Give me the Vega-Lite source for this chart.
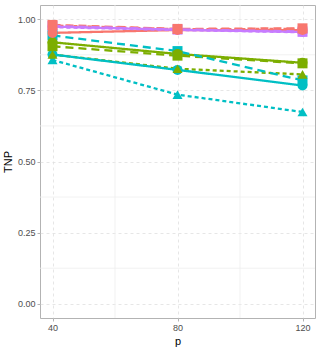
{
  "$schema": "https://vega.github.io/schema/vega-lite/v6.json",
  "width": 275,
  "height": 313,
  "autosize": {"type": "none"},
  "padding": {"left": 40, "top": 5, "right": 4, "bottom": 30},
  "background": "white",
  "config": {
    "view": {"stroke": "#B3B3B3", "strokeWidth": 1},
    "font": "Liberation Sans",
    "axis": {
      "domain": false,
      "grid": true,
      "gridColor": "#E0E0E0",
      "gridDash": [3, 3],
      "gridWidth": 0.8,
      "ticks": true,
      "tickColor": "#B3B3B3",
      "tickSize": 3,
      "labelColor": "#4D4D4D",
      "labelFontSize": 9,
      "labelFont": "Liberation Sans",
      "labelPadding": 2,
      "titleColor": "#000000",
      "titleFontSize": 11,
      "titleFont": "Liberation Sans",
      "titleFontWeight": "normal"
    }
  },
  "datasets": {
    "series": [
      {"method": "A", "setting": "dotted", "p": 40, "TNP": 0.978},
      {"method": "A", "setting": "dotted", "p": 80, "TNP": 0.965},
      {"method": "A", "setting": "dotted", "p": 120, "TNP": 0.966},
      {"method": "A", "setting": "solid", "p": 40, "TNP": 0.952},
      {"method": "A", "setting": "solid", "p": 80, "TNP": 0.962},
      {"method": "A", "setting": "solid", "p": 120, "TNP": 0.962},
      {"method": "A", "setting": "dashed", "p": 40, "TNP": 0.980},
      {"method": "A", "setting": "dashed", "p": 80, "TNP": 0.966},
      {"method": "A", "setting": "dashed", "p": 120, "TNP": 0.968},
      {"method": "B", "setting": "solid", "p": 40, "TNP": 0.919},
      {"method": "B", "setting": "solid", "p": 80, "TNP": 0.878},
      {"method": "B", "setting": "solid", "p": 120, "TNP": 0.847},
      {"method": "B", "setting": "dashed", "p": 40, "TNP": 0.905},
      {"method": "B", "setting": "dashed", "p": 80, "TNP": 0.872},
      {"method": "B", "setting": "dashed", "p": 120, "TNP": 0.845},
      {"method": "B", "setting": "dotted", "p": 40, "TNP": 0.876},
      {"method": "B", "setting": "dotted", "p": 80, "TNP": 0.826},
      {"method": "B", "setting": "dotted", "p": 120, "TNP": 0.806},
      {"method": "C", "setting": "solid", "p": 40, "TNP": 0.876},
      {"method": "C", "setting": "solid", "p": 80, "TNP": 0.822},
      {"method": "C", "setting": "solid", "p": 120, "TNP": 0.767},
      {"method": "C", "setting": "dashed", "p": 40, "TNP": 0.943},
      {"method": "C", "setting": "dashed", "p": 80, "TNP": 0.888},
      {"method": "C", "setting": "dashed", "p": 120, "TNP": 0.785},
      {"method": "C", "setting": "dotted", "p": 40, "TNP": 0.857},
      {"method": "C", "setting": "dotted", "p": 80, "TNP": 0.735},
      {"method": "C", "setting": "dotted", "p": 120, "TNP": 0.674},
      {"method": "D", "setting": "solid", "p": 40, "TNP": 0.974},
      {"method": "D", "setting": "solid", "p": 80, "TNP": 0.963},
      {"method": "D", "setting": "solid", "p": 120, "TNP": 0.955},
      {"method": "D", "setting": "dashed", "p": 40, "TNP": 0.976},
      {"method": "D", "setting": "dashed", "p": 80, "TNP": 0.964},
      {"method": "D", "setting": "dashed", "p": 120, "TNP": 0.957},
      {"method": "D", "setting": "dotted", "p": 40, "TNP": 0.972},
      {"method": "D", "setting": "dotted", "p": 80, "TNP": 0.962},
      {"method": "D", "setting": "dotted", "p": 120, "TNP": 0.954}
    ]
  },
  "layer": [
    {
      "data": {"values": [{"g": 0.125}, {"g": 0.375}, {"g": 0.625}, {"g": 0.875}]},
      "mark": {"type": "rule", "color": "#EDEDED", "strokeWidth": 0.8},
      "encoding": {
        "y": {"field": "g", "type": "quantitative",
              "scale": {"domain": [-0.05, 1.05], "nice": false, "zero": false},
              "axis": {"values": [0, 0.25, 0.5, 0.75, 1], "format": ".2f", "title": "TNP", "titlePadding": 4}}
      }
    },
    {
      "data": {"values": [{"g": 60}, {"g": 100}]},
      "mark": {"type": "rule", "color": "#EDEDED", "strokeWidth": 0.8},
      "encoding": {
        "x": {"field": "g", "type": "quantitative",
              "scale": {"domain": [36, 124], "nice": false, "zero": false},
              "axis": {"values": [40, 80, 120], "title": "p", "titlePadding": 3}}
      }
    },
    {
      "data": {"name": "series"},
      "mark": {"type": "line", "strokeWidth": 2.3},
      "encoding": {
        "x": {"field": "p", "type": "quantitative", "title": "p"},
        "y": {"field": "TNP", "type": "quantitative", "title": "TNP"},
        "color": {"field": "method", "type": "nominal",
                  "scale": {"domain": ["A", "B", "C", "D"], "range": ["#F8766D", "#7CAE00", "#00BFC4", "#C77CFF"]},
                  "legend": null},
        "strokeDash": {"field": "setting", "type": "nominal",
                       "scale": {"domain": ["solid", "dashed", "dotted"], "range": [[1, 0], [8, 5], [4, 3]]},
                       "legend": null}
      }
    },
    {
      "data": {"name": "series"},
      "mark": {"type": "point", "filled": true, "opacity": 1, "size": 100},
      "encoding": {
        "x": {"field": "p", "type": "quantitative", "title": "p"},
        "y": {"field": "TNP", "type": "quantitative", "title": "TNP"},
        "color": {"field": "method", "type": "nominal", "legend": null},
        "shape": {"field": "setting", "type": "nominal",
                  "scale": {"domain": ["solid", "dashed", "dotted"], "range": ["circle", "square", "triangle-up"]},
                  "legend": null},
        "order": {"field": "method", "sort": "descending"}
      }
    }
  ]
}
